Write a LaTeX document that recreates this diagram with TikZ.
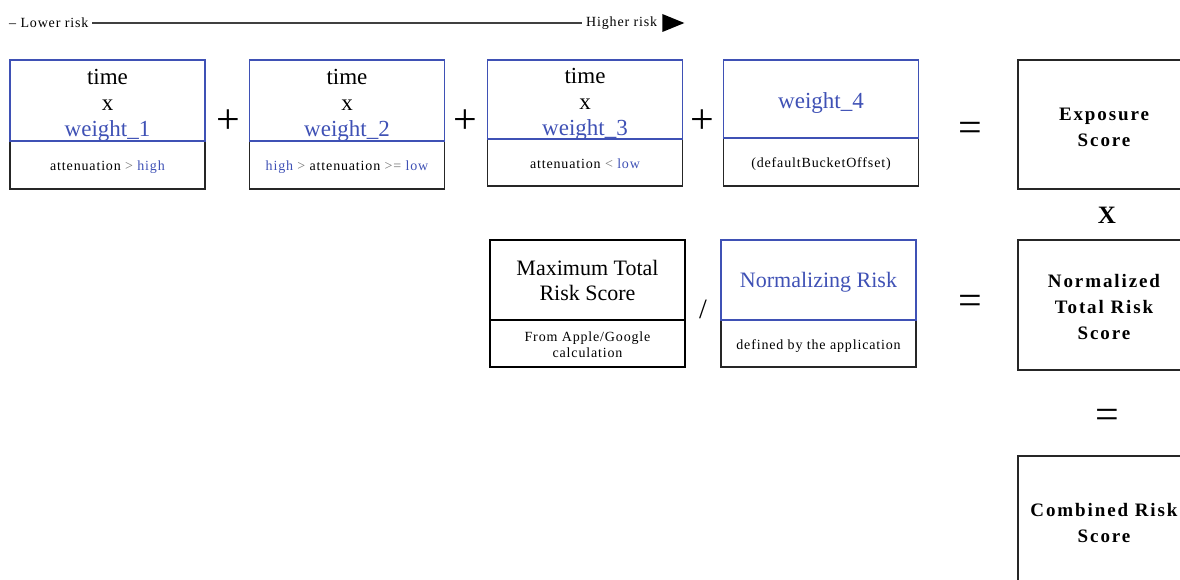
\documentclass[tikz,border=0pt]{standalone}
\usepackage{fontspec}
\setmainfont{Liberation Serif}[LetterSpace=6]
\definecolor{weightblue}{RGB}{63,81,181}
\tikzset{
  factor/.style={draw=weightblue, line width=1.2pt, minimum width=195pt, inner sep=0pt,
    align=center, font=\fontsize{23}{26}\selectfont\addfontfeature{LetterSpace=0}},
  bucket/.style={draw=black!85, line width=1.2pt, minimum width=195pt, inner sep=0pt,
    align=center, font=\fontsize{14}{16}\selectfont},
  result/.style={draw=black!85, line width=1.2pt, minimum width=172pt, minimum height=130pt,
    inner sep=0pt, align=center,
    font=\fontsize{19}{26}\selectfont\bfseries\addfontfeature{LetterSpace=10}},
  op/.style={inner sep=0pt, anchor=base, font=\fontsize{42}{42}\selectfont\addfontfeature{LetterSpace=0}},
  scalelabel/.style={inner xsep=4pt, inner ysep=2pt, font=\fontsize{14}{14}\selectfont},
}
\newcommand{\wt}[1]{\textcolor{weightblue}{#1}}
\newcommand{\cmp}[1]{{\color{black!55}#1}}
% taller first line pushes the text a bit down in its box
\newcommand{\pad}[1]{\rule{0pt}{#1}}
% time x weight_n, with fixed top and bottom line sizes
\newcommand{\weighted}[1]{\raisebox{0pt}[20pt][\depth]{time}\\x\\%
  \raisebox{0pt}[\height][0pt]{\wt{weight\_#1}}}

\begin{document}
\begin{tikzpicture}[x=1pt,y=-1pt]
  \useasboundingbox (0,0) rectangle (1180,580);

  % risk scale
  \node[scalelabel, anchor=west] (lower) at (5,23) {-- Lower risk};
  \node[scalelabel, anchor=west] (higher) at (582,23) {Higher risk};
  \draw[line width=1.5pt, black!75] (lower) -- (higher);
  \fill (higher.east) ++(1,-9) -- ++(22,9) -- ++(-22,9) -- cycle;

  % weighted buckets
  \node[bucket, minimum height=48pt] (att1) at (107.5,165)
    {\pad{14pt}attenuation \cmp{>} \wt{high}};
  \node[factor, minimum height=81pt] (w1) at (107.5,100.5) {\weighted{1}};
  \node[bucket, minimum height=48pt] (att2) at (347,165)
    {\pad{14pt}\wt{high} \cmp{>} attenuation \cmp{>=} \wt{low}};
  \node[factor, minimum height=81pt] (w2) at (347,100.5) {\weighted{2}};
  \node[bucket, minimum height=47pt] (att3) at (585,162.5)
    {\pad{11.5pt}attenuation \cmp{<} \wt{low}};
  \node[factor, minimum height=79pt] (w3) at (585,99.5) {\weighted{3}};
  \node[bucket, minimum height=48pt] (att4) at (821,162)
    {\pad{14.5pt}(defaultBucketOffset)};
  \node[factor, minimum height=78pt] (w4) at (821,99) {\pad{24pt}\wt{weight\_4}};

  \node[op] (plus1) at (228,133.5) {+};
  \node[op] (plus2) at (465,133.5) {+};
  \node[op] (plus3) at (702,133.5) {+};
  \node[op] (eq1) at (970,141.5) {=};

  \node[result, minimum height=129pt] (exposure) at (1104,124.5)
    {\pad{17.5pt}Exposure\\Score};
  \node[inner sep=0pt, font=\fontsize{25}{25}\selectfont\bfseries] (times) at (1107,215) {X};

  % normalization
  \node[bucket, draw=black, minimum height=47pt] (maxsrc) at (587.5,343.5)
    {\pad{11.5pt}From Apple/Google\\calculation};
  \node[bucket, draw=black, minimum height=80pt,
    font=\fontsize{22}{25}\selectfont\addfontfeature{LetterSpace=0}] (maxrisk)
    at (587.5,280) {Maximum Total\\Risk Score};
  \node[bucket, minimum height=47pt] (normsrc) at (818.5,343.5)
    {\pad{14.5pt}defined by the application};
  \node[factor, minimum height=80pt, font=\fontsize{22}{25}\selectfont\addfontfeature{LetterSpace=0}]
    (normrisk) at (818.5,280) {\pad{20pt}\wt{Normalizing Risk}};

  \node[inner sep=0pt, font=\fontsize{28}{28}\selectfont] (div) at (703,309) {/};
  \node[op] (eq2) at (970,314.5) {=};

  \node[result] (normalized) at (1104,305) {\pad{17pt}Normalized\\Total Risk\\Score};
  \node[op] (eq3) at (1107,428.5) {=};
  \node[result] (combined) at (1104,521) {\pad{17pt}Combined Risk\\Score};
\end{tikzpicture}
\end{document}
